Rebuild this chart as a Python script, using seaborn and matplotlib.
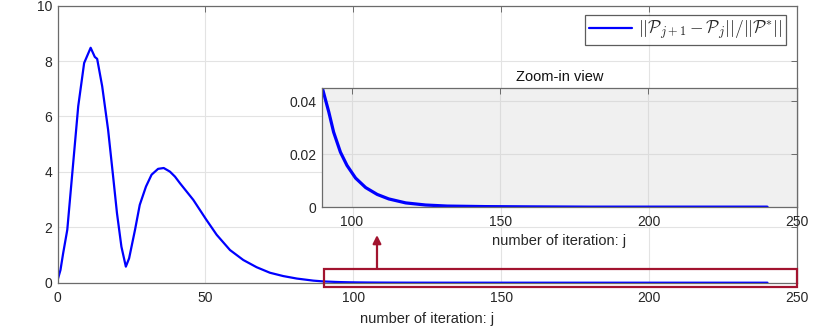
import numpy as np
import pandas as pd
import matplotlib
matplotlib.use("Agg")
import matplotlib.pyplot as plt
import seaborn as sns
from matplotlib.patches import Rectangle

# values
iteration = [0, 0.2, 1.0, 1.9, 3.3, 5.3, 7.0, 9.0, 11.2, 12.6, 13.4, 15.1, 17.1,
             18.8, 20.1, 21.6, 23.1, 24.2, 26.2, 27.8, 29.9, 31.8, 34.0, 35.9,
             38.0, 39.7, 41.4, 45.9, 50.2, 53.8, 58.3, 62.8, 67.3, 71.8, 76.3,
             80.9, 86.5,
             90.0, 92.3, 93.9, 96.2, 98.4, 101.3, 104.7, 108.6, 112.5, 118.2,
             124.9, 132.2, 145.0, 160.0, 180.0, 240.0]
rel_change = [0.10, 0.16, 0.46, 1.06, 1.91, 4.32, 6.37, 7.93, 8.48, 8.15, 8.08,
              7.09, 5.52, 3.83, 2.51, 1.30, 0.58, 0.88, 1.91, 2.81, 3.47, 3.90,
              4.11, 4.14, 4.01, 3.83, 3.59, 2.99, 2.29, 1.73, 1.18, 0.82, 0.56,
              0.36, 0.24, 0.15, 0.075,
              0.0455, 0.0359, 0.0284, 0.0208, 0.0158, 0.0110, 0.0074, 0.0048,
              0.0031, 0.0016, 0.0008, 0.0004, 0.0002, 0.0001, 0.0, 0.0]

main_xticks = [0, 50, 100, 150, 200, 250]
main_yticks = [0, 2, 4, 6, 8, 10]
zoom_xticks = [100, 150, 200, 250]
zoom_yticks = [0, 0.02, 0.04]
zoom_lo, zoom_hi = 90, 250
zoom_ymax = 0.045

df = pd.DataFrame({"j": iteration, "r": rel_change})

sns.set_style("white")
plt.rcParams["font.family"] = ["Liberation Sans", "DejaVu Sans"]
plt.rcParams["mathtext.fontset"] = "cm"

blue = "#0000FF"
dark_red = "#A2142F"
axis_col = "#6b6b6b"
text_col = "#262626"
grid_col = "#e3e3e3"


def style_axes(ax):
    ax.tick_params(direction="in", top=True, right=True, length=4, width=0.7,
                   colors=axis_col, labelcolor=text_col, labelsize=10)
    ax.tick_params(axis="x", pad=6)
    ax.tick_params(axis="y", pad=4)
    for s in ax.spines.values():
        s.set_visible(True)
        s.set_color(axis_col)
        s.set_linewidth(0.9)
    ax.grid(True, color=grid_col, linewidth=0.8)
    ax.set_axisbelow(True)


fig = plt.figure(figsize=(8.3, 3.33), dpi=100)
ax = fig.add_axes([0.0693, 0.151, 0.891, 0.832])
sns.lineplot(data=df, x="j", y="r", ax=ax, color=blue, linewidth=1.6,
             label=r"$||\mathcal{P}_{j+1}-\mathcal{P}_j||/||\mathcal{P}^{*}||$")
ax.set_xlim(0, 250)
ax.set_ylim(0, 10)
ax.set_xticks(main_xticks)
ax.set_yticks(main_yticks)
ax.set_xlabel("number of iteration: j", fontsize=10.5, color=text_col, labelpad=5)
ax.set_ylabel("")
style_axes(ax)
leg = ax.legend(loc="upper right", fontsize=12.5, frameon=True, fancybox=False,
                handlelength=2.5, handletextpad=0.35, borderpad=0.2,
                borderaxespad=0, bbox_to_anchor=(0.985, 0.966))
leg.get_frame().set_edgecolor("#333333")
leg.get_frame().set_linewidth(0.9)

# highlighted region and arrow up to the zoomed view
ax.add_patch(Rectangle((zoom_lo, -0.17), zoom_hi - zoom_lo, 0.67, fill=False,
                       edgecolor=dark_red, linewidth=1.6, clip_on=False, zorder=5))
ax.annotate("", xy=(108, 1.72), xytext=(108, 0.5),
            arrowprops=dict(arrowstyle="-|>", color=dark_red, lw=1.6,
                            mutation_scale=12, shrinkA=0, shrinkB=0))

# inset
ins = fig.add_axes([0.388, 0.378, 0.572, 0.357])
ins.set_facecolor("#f0f0f0")
sns.lineplot(data=df[df["j"] >= zoom_lo], x="j", y="r", ax=ins, color=blue,
             linewidth=2.3, legend=False)
ins.set_xlim(zoom_lo, zoom_hi)
ins.set_ylim(0, zoom_ymax)
ins.set_xticks(zoom_xticks)
ins.set_yticks(zoom_yticks)
ins.set_yticklabels(["0", "0.02", "0.04"])
ins.set_xlabel("number of iteration: j", fontsize=10.5, color=text_col, labelpad=3)
ins.set_ylabel("")
ins.set_title("Zoom-in view", fontsize=10.5, color="#111111", pad=5)
style_axes(ins)
ins.grid(True, color="#dcdcdc", linewidth=0.8)

fig.savefig("out.png", dpi=100)
